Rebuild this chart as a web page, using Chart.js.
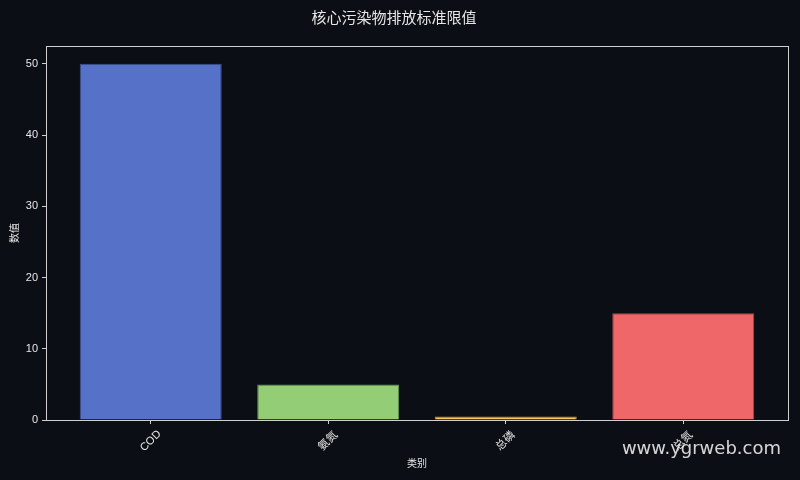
<!DOCTYPE html>
<html>
<head>
<meta charset="utf-8">
<script src="https://cdn.jsdelivr.net/npm/chart.js@4/dist/chart.umd.min.js"></script>
<style>
  html, body { margin: 0; padding: 0; background: #0b0e14; }
  #wrap { width: 800px; height: 480px; }
</style>
</head>
<body>
<div id="wrap"><canvas id="myChart" width="800" height="480"></canvas></div>
<script>
// Chart data
const categories = ['COD', '氨氮', '总磷', '总氮'];
const values = [50, 5, 0.5, 15];
const barColors = ['#5571c8', '#93cd76', '#fac858', '#ef6769'];
const edgeColors = ['#3d528f', '#6a9a55', '#b8923e', '#a94a4c'];

const fontFamily = "'Liberation Sans', 'Noto Sans CJK SC', sans-serif";
const textColor = '#e6e6e6';
const axisColor = '#cfcfcf';

// Frame round the plot area, centred rotated x labels and watermark
const framePlugin = {
    id: 'frame',
    afterDraw(chart) {
        const { ctx, chartArea } = chart;
        const xScale = chart.scales.x;
        ctx.save();
        ctx.strokeStyle = axisColor;
        ctx.lineWidth = 1;
        ctx.strokeRect(chartArea.left + 0.5, chartArea.top + 0.5,
            chartArea.right - chartArea.left, chartArea.bottom - chartArea.top);

        // x labels rotated 45 deg, centred under each tick
        ctx.fillStyle = textColor;
        ctx.font = "11px " + fontFamily;
        ctx.textAlign = 'center';
        ctx.textBaseline = 'middle';
        categories.forEach((c, i) => {
            const px = xScale.getPixelForValue(i);
            ctx.save();
            ctx.translate(px, chartArea.bottom + 21);
            ctx.rotate(-Math.PI / 4);
            ctx.fillText(c, 0, 0);
            ctx.restore();
        });

        ctx.fillStyle = 'rgba(235,235,235,0.9)';
        ctx.font = "18px 'DejaVu Sans', sans-serif";
        ctx.textAlign = 'right';
        ctx.textBaseline = 'middle';
        ctx.fillText('www.ygrweb.com', 781, 449);
        ctx.restore();
    }
};

const ctx = document.getElementById('myChart').getContext('2d');
const chart = new Chart(ctx, {
    type: 'bar',
    data: {
        datasets: [{
            data: values.map((v, i) => ({ x: i, y: v })),
            backgroundColor: barColors,
            borderColor: edgeColors,
            borderWidth: 1,
            barPercentage: 0.8,
            categoryPercentage: 1
        }]
    },
    options: {
        responsive: false,
        animation: false,
        layout: { padding: { left: 0, right: 12, top: 0, bottom: 0 } },
        plugins: {
            legend: { display: false },
            tooltip: { enabled: false },
            title: {
                display: true,
                text: '核心污染物排放标准限值',
                color: textColor,
                font: { family: fontFamily, size: 15, weight: 'normal' },
                padding: { top: 10, bottom: 18 }
            }
        },
        scales: {
            x: {
                type: 'linear',
                offset: false,
                min: -0.59,
                max: 3.59,
                afterBuildTicks(scale) {
                    scale.ticks = categories.map((c, i) => ({ value: i }));
                },
                afterFit(scale) { scale.height = 60; },
                ticks: { display: false },
                grid: { drawOnChartArea: false, offset: false, color: axisColor, tickLength: 4 },
                border: { color: axisColor },
                title: {
                    display: true,
                    text: '类别',
                    color: textColor,
                    font: { family: fontFamily, size: 10 },
                    padding: { top: 0, bottom: 10 }
                }
            },
            y: {
                min: 0,
                max: 52.5,
                afterBuildTicks(scale) {
                    scale.ticks = [0, 10, 20, 30, 40, 50].map(v => ({ value: v }));
                },
                afterFit(scale) { scale.width = 46; },
                ticks: {
                    color: textColor,
                    font: { family: fontFamily, size: 11 },
                    padding: 4
                },
                grid: { drawOnChartArea: false, color: axisColor, tickLength: 4 },
                border: { color: axisColor },
                title: {
                    display: true,
                    text: '数值',
                    color: textColor,
                    font: { family: fontFamily, size: 10 },
                    padding: { top: 9, bottom: 0 }
                }
            }
        }
    },
    plugins: [framePlugin]
});
</script>
</body>
</html>
